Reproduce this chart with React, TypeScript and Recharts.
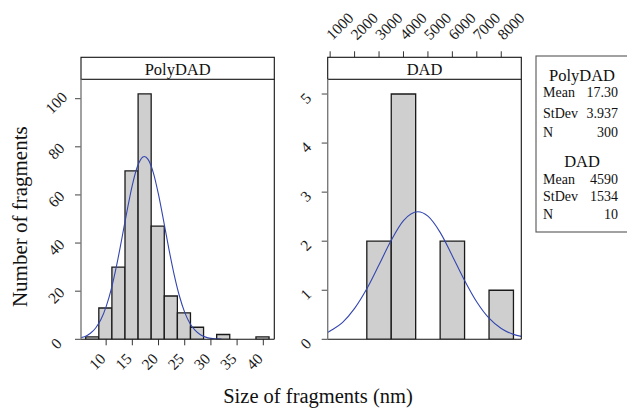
import React from 'react';
import { ComposedChart, Bar, Line, XAxis, YAxis } from 'recharts';

// ---------- data ----------
const polyBinMids = [7.35, 9.85, 12.35, 14.85, 17.35, 19.85, 22.35, 24.85, 27.35, 29.85, 32.35, 34.85, 37.35, 39.85];
const polyCounts = [1, 13, 30, 70, 102, 47, 18, 11, 5, 0, 2, 0, 0, 1];
const dadBinMids = [3000, 4000, 5000, 6000, 7000, 8000];
const dadCounts = [2, 5, 0, 2, 0, 1];

const polyCurveX = [5.2, 6, 7, 8, 9, 10, 11, 12, 13, 14, 15, 16, 17, 17.3, 18, 19, 20, 21, 22, 23, 24, 25, 26, 27, 28, 29, 30, 31, 32];
const polyCurveY = [0.7, 1.2, 2.5, 4.7, 8.2, 13.6, 21.1, 30.7, 41.9, 53.5, 64.1, 72.0, 75.8, 76.0, 74.8, 69.3, 60.1, 48.9, 37.3, 26.7, 17.9, 11.2, 6.6, 3.7, 1.9, 0.9, 0.4, 0.2, 0.1];
const dadCurveX = [900, 1000, 1500, 2000, 2500, 3000, 3500, 4000, 4590, 5000, 5500, 6000, 6500, 7000, 7500, 8000, 8500, 8820];
const dadCurveY = [0.14, 0.17, 0.34, 0.63, 1.03, 1.52, 2.02, 2.42, 2.6, 2.51, 2.18, 1.7, 1.2, 0.76, 0.43, 0.22, 0.1, 0.06];

const polyXTicks = [10, 15, 20, 25, 30, 35, 40];
const polyYTicks = [0, 20, 40, 60, 80, 100];
const dadXTicks = [1000, 2000, 3000, 4000, 5000, 6000, 7000, 8000];
const dadYTicks = [0, 1, 2, 3, 4, 5];

const panelNames = ['PolyDAD', 'DAD'];
const statLabels = ['Mean', 'StDev', 'N'];
const polyStats = ['17.30', '3.937', '300'];
const dadStats = ['4590', '1534', '10'];

const yTitle = 'Number of fragments';
const xTitle = 'Size of fragments (nm)';

// ---------- layout ----------
const FONT = '"Liberation Serif", "Times New Roman", serif';
const W = 627;
const H = 410;
const STRIP_TOP = 57.3;
const TOP = 79.3;
const BOTTOM = 339.3;
const LP = { left: 81, right: 274.3 };
const RP = { left: 327.7, right: 521.3 };
const POLY_DOMAIN: [number, number] = [5.2, 42.1];
const DAD_DOMAIN: [number, number] = [900, 8820];
const POLY_YMAX = 108.06;
const DAD_YMAX = 5.3;
const POLY_BIN = 2.5;
const DAD_BIN = 1000;
const CHART_H = 380;

const BAR_FILL = '#cfcfcf';
const BAR_STROKE = '#1a1a1a';
const CURVE = '#3346b0';
const TICK_COLOR = '#1a1a1a';

const polyBins = polyBinMids.map((m, i) => ({ mid: m, count: polyCounts[i] }));
const dadBins = dadBinMids.map((m, i) => ({ mid: m, count: dadCounts[i] }));
const polyCurve = polyCurveX.map((x, i) => ({ x, y: polyCurveY[i] }));
const dadCurve = dadCurveX.map((x, i) => ({ x, y: dadCurveY[i] }));

const polyBarSize = (POLY_BIN * (LP.right - LP.left)) / (POLY_DOMAIN[1] - POLY_DOMAIN[0]) - 0.02;
const dadBarSize = (DAD_BIN * (RP.right - RP.left)) / (DAD_DOMAIN[1] - DAD_DOMAIN[0]) - 0.02;

const tickText = { fontFamily: FONT, fontSize: 15.5, fill: TICK_COLOR } as const;

const makeYTick = (axisX: number, dx: number) => (p: any) => {
  const cx = axisX + dx;
  const cy = p.y + 4;
  return (
    <g>
      <line x1={axisX - 6} x2={axisX} y1={p.y} y2={p.y} stroke="#444" strokeWidth={1} />
      <text x={cx} y={cy} textAnchor="middle" dominantBaseline="central" transform={`rotate(-45 ${cx} ${cy})`} style={tickText}>
        {p.payload.value}
      </text>
    </g>
  );
};

const BottomTick = (p: any) => {
  const cx = p.x - 9;
  const cy = BOTTOM + 22;
  return (
    <g>
      <line x1={p.x} x2={p.x} y1={BOTTOM} y2={BOTTOM + 6} stroke="#333" strokeWidth={1} />
      <text x={cx} y={cy} textAnchor="middle" dominantBaseline="central" transform={`rotate(-45 ${cx} ${cy})`} style={tickText}>
        {p.payload.value}
      </text>
    </g>
  );
};

const TopTick = (p: any) => {
  const cx = p.x + 9.5;
  const cy = 26;
  return (
    <g>
      <line x1={p.x} x2={p.x} y1={STRIP_TOP - 6} y2={STRIP_TOP} stroke="#333" strokeWidth={1} />
      <text x={cx} y={cy} textAnchor="middle" dominantBaseline="central" transform={`rotate(-45 ${cx} ${cy})`} style={tickText}>
        {p.payload.value}
      </text>
    </g>
  );
};

const Frame = ({ left, right, name }: { left: number; right: number; name: string }) => (
  <g>
    <rect x={left} y={STRIP_TOP} width={right - left} height={TOP - STRIP_TOP} fill="#fff" stroke="#111" strokeWidth={1.1} />
    <text x={(left + right) / 2} y={(STRIP_TOP + TOP) / 2 + 1} textAnchor="middle" dominantBaseline="central" style={{ fontFamily: FONT, fontSize: 16.5, fill: '#111' }}>
      {name}
    </text>
    <line x1={left} x2={right} y1={BOTTOM} y2={BOTTOM} stroke="#111" strokeWidth={1.1} />
    <line x1={right} x2={right} y1={TOP} y2={BOTTOM} stroke="#111" strokeWidth={1.1} />
    <line x1={left} x2={left} y1={TOP} y2={BOTTOM} stroke="#7a7a7a" strokeWidth={1.4} />
  </g>
);

const statRowY1 = [92, 113, 132];
const statRowY2 = [179, 196.5, 214.5];

const Legend = () => (
  <g style={{ fontFamily: FONT }}>
    <rect x={536} y={56} width={100} height={176} fill="#fff" stroke="#555" strokeWidth={1.1} />
    <text x={582} y={75} textAnchor="middle" dominantBaseline="central" style={{ fontSize: 16.5, fill: '#111' }}>{panelNames[0]}</text>
    {statLabels.map((l, i) => (
      <g key={'p' + l}>
        <text x={543} y={statRowY1[i]} dominantBaseline="central" style={{ fontSize: 14, fill: '#111' }}>{l}</text>
        <text x={618} y={statRowY1[i]} textAnchor="end" dominantBaseline="central" style={{ fontSize: 14, fill: '#111' }}>{polyStats[i]}</text>
      </g>
    ))}
    <text x={582} y={161} textAnchor="middle" dominantBaseline="central" style={{ fontSize: 16.5, fill: '#111' }}>{panelNames[1]}</text>
    {statLabels.map((l, i) => (
      <g key={'d' + l}>
        <text x={543} y={statRowY2[i]} dominantBaseline="central" style={{ fontSize: 14, fill: '#111' }}>{l}</text>
        <text x={618} y={statRowY2[i]} textAnchor="end" dominantBaseline="central" style={{ fontSize: 14, fill: '#111' }}>{dadStats[i]}</text>
      </g>
    ))}
  </g>
);

export default function App() {
  const abs = { position: 'absolute' as const, left: 0, top: 0 };
  return (
    <div style={{ position: 'absolute', left: 0, top: 0, width: W, height: H, background: '#fff', overflow: 'hidden' }}>
      <div style={abs}>
        <ComposedChart
          width={300}
          height={CHART_H}
          data={polyBins}
          margin={{ top: TOP, right: 300 - LP.right, bottom: CHART_H - BOTTOM - 30, left: 0 }}
        >
          <XAxis xAxisId="b" type="number" dataKey="mid" domain={POLY_DOMAIN} allowDataOverflow ticks={polyXTicks} interval={0} height={30} axisLine={false} tickLine={false} tick={BottomTick} />
          <XAxis xAxisId="c" type="number" dataKey="x" domain={POLY_DOMAIN} allowDataOverflow hide />
          <YAxis type="number" domain={[0, POLY_YMAX]} allowDataOverflow ticks={polyYTicks} interval={0} width={LP.left} axisLine={false} tickLine={false} tick={makeYTick(LP.left, -25)} />
          <Bar xAxisId="b" dataKey="count" barSize={polyBarSize} fill={BAR_FILL} stroke={BAR_STROKE} strokeWidth={1.3} isAnimationActive={false} />
          <Line xAxisId="c" data={polyCurve} dataKey="y" type="monotone" stroke={CURVE} strokeWidth={1.1} dot={false} isAnimationActive={false} />
        </ComposedChart>
      </div>
      <div style={abs}>
        <ComposedChart
          width={W}
          height={CHART_H}
          data={dadBins}
          margin={{ top: TOP - 30, right: W - RP.right, bottom: CHART_H - BOTTOM, left: 0 }}
        >
          <XAxis xAxisId="t" orientation="top" type="number" dataKey="mid" domain={DAD_DOMAIN} allowDataOverflow ticks={dadXTicks} interval={0} height={30} axisLine={false} tickLine={false} tick={TopTick} />
          <XAxis xAxisId="c" type="number" dataKey="x" domain={DAD_DOMAIN} allowDataOverflow hide />
          <YAxis type="number" domain={[0, DAD_YMAX]} allowDataOverflow ticks={dadYTicks} interval={0} width={RP.left} axisLine={false} tickLine={false} tick={makeYTick(RP.left, -22)} />
          <Bar xAxisId="t" dataKey="count" barSize={dadBarSize} fill={BAR_FILL} stroke={BAR_STROKE} strokeWidth={1.3} isAnimationActive={false} />
          <Line xAxisId="c" data={dadCurve} dataKey="y" type="monotone" stroke={CURVE} strokeWidth={1.1} dot={false} isAnimationActive={false} />
        </ComposedChart>
      </div>
      <svg width={W} height={H} style={{ ...abs, pointerEvents: 'none' }}>
        <Frame left={LP.left} right={LP.right} name={panelNames[0]} />
        <Frame left={RP.left} right={RP.right} name={panelNames[1]} />
        <Legend />
        <text x={20} y={216.7} textAnchor="middle" dominantBaseline="central" transform="rotate(-90 20 216.7)" style={{ fontFamily: FONT, fontSize: 21, fill: '#111' }}>
          {yTitle}
        </text>
        <text x={318} y={396} textAnchor="middle" dominantBaseline="central" style={{ fontFamily: FONT, fontSize: 20.5, fill: '#111' }}>
          {xTitle}
        </text>
      </svg>
    </div>
  );
}
